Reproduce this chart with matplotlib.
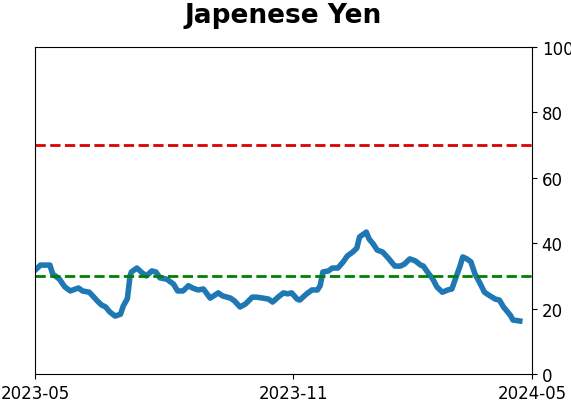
import matplotlib
matplotlib.use("Agg")
import matplotlib.pyplot as plt
import numpy as np
import pandas as pd

# data: days after 2023-05-01 and indicator value
start = pd.Timestamp("2023-05-01")
days = [1, 4, 11, 13, 18, 22, 26, 32, 35, 40, 46, 49, 52, 55, 59, 63, 65, 68, 70, 71,
        75, 79, 82, 86, 89, 92, 97, 102, 105, 109, 113, 116, 120, 124, 129, 135, 138,
        144, 147, 151, 155, 160, 163, 168, 172, 175, 179, 183, 186, 189, 193,
        195, 200, 204, 208, 210, 212, 216, 219, 223, 227, 230, 234, 237, 239, 242,
        244, 246, 249, 252, 256, 260, 265, 269, 272, 276, 280, 284, 286, 289, 293,
        296, 300, 304, 307, 309, 313, 315, 318, 321, 324, 328, 331, 335, 339, 342,
        345, 350, 352, 357]
values = [32.1, 33.3, 33.3, 30.6, 29.0, 26.6, 25.4, 26.3, 25.4, 25.0, 22.3, 21.1, 20.5,
          19.0, 17.7, 18.3, 20.8, 23.0, 30.0, 31.2, 32.4, 30.9, 30.0, 31.5, 31.2, 29.4,
          29.0, 27.5, 25.4, 25.4, 27.0, 26.3, 25.7, 26.0, 23.2, 24.8, 23.9, 23.2, 22.3,
          20.5, 21.4, 23.5, 23.5, 23.2, 22.9, 22.0, 23.5, 24.8, 24.5, 24.8, 22.9,
          22.6, 24.5, 25.7, 25.7, 27.0, 31.2, 31.5, 32.4, 32.4, 34.3, 36.1, 37.3, 38.5,
          41.9, 42.8, 43.4, 41.3, 39.8, 37.9, 37.3, 35.5, 33.0, 33.0, 33.6, 35.2, 34.6,
          33.3, 33.0, 31.2, 29.0, 26.6, 25.0, 25.7, 26.0, 28.4, 33.0, 35.8, 35.2, 34.3,
          30.6, 27.5, 25.0, 23.9, 22.9, 22.6, 20.5, 18.0, 16.5, 16.2]
dates = start + pd.to_timedelta(days, unit="D")

upper = 70
lower = 30
tick_dates = pd.to_datetime(["2023-05-01", "2023-11-07", "2024-05-01"])
tick_labels = ["2023-05", "2023-11", "2024-05"]

fig = plt.figure(figsize=(5.71, 4.02), dpi=100)
ax = fig.add_axes([0.0613, 0.0672, 0.8704, 0.8134])

ax.plot(dates, values, color="#1f77b4", linewidth=4)
ax.axhline(upper, color="#dd0000", linestyle="--", linewidth=2)
ax.axhline(lower, color="green", linestyle="--", linewidth=2)

ax.set_ylim(0, 100)
ax.set_xlim(pd.Timestamp("2023-05-01"), pd.Timestamp("2024-05-01"))
ax.yaxis.tick_right()
ax.set_yticks([0, 20, 40, 60, 80, 100])
ax.set_xticks(tick_dates)
ax.set_xticklabels(tick_labels)
ax.tick_params(labelsize=12)
ax.set_title("Japenese Yen", fontsize=19, fontweight="bold", pad=18)

fig.savefig("out.png", dpi=100)
